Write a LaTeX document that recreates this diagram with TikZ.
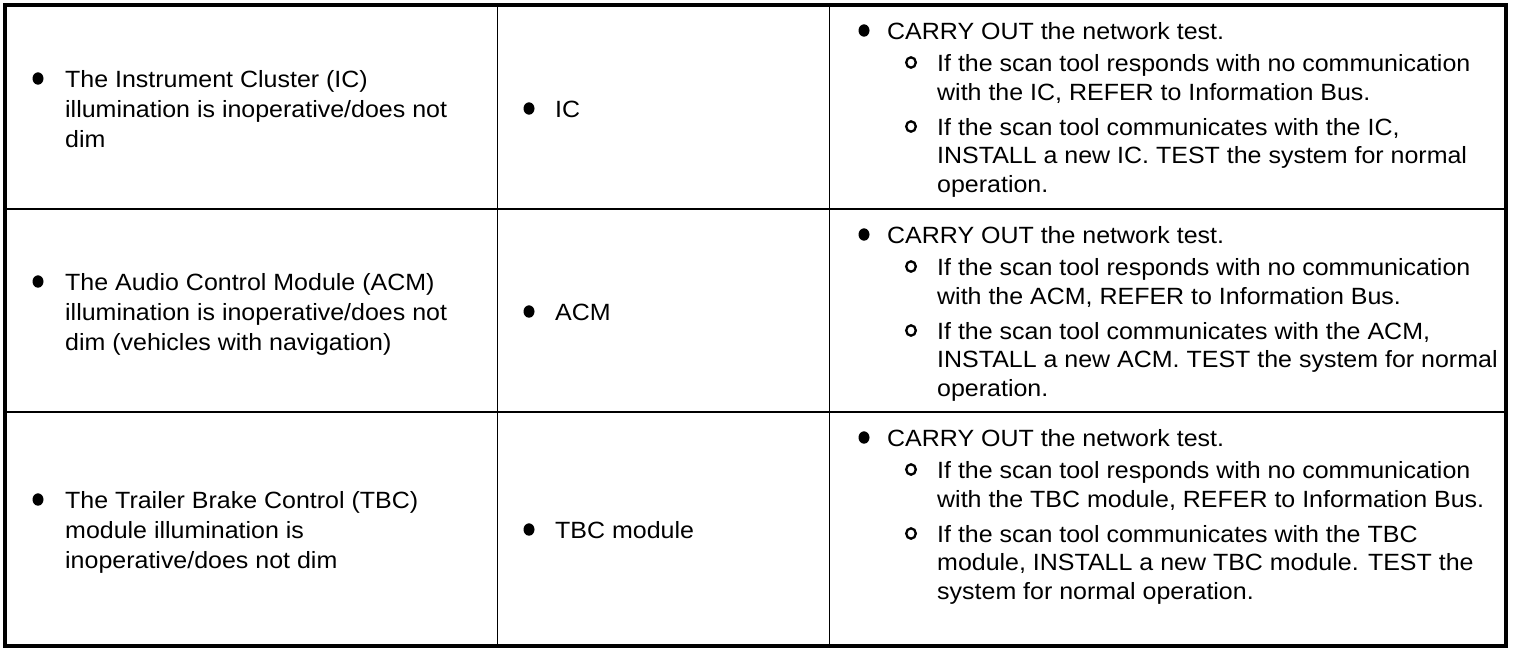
\documentclass[tikz,border=0pt]{standalone}
\usepackage{fontspec}
\setmainfont{Liberation Sans}[FakeStretch=1.063]
\newcommand\cellfont{\fontsize{23.5}{30}\selectfont}
\tikzset{
  txt/.style={anchor=base west,inner sep=0pt,font=\cellfont},
  dot/.style={fill=black},
  ring/.style={draw=black,line width=2.3pt}
}
\begin{document}
\begin{tikzpicture}[x=1pt,y=-1pt,line cap=rect,line join=miter]
	\useasboundingbox (0,0) rectangle (1520,654);
	% table rules
	\draw[line width=4pt] (5,5) rectangle (1506,646);
	\draw[line width=2pt] (5,209) -- (1506,209) (5,412) -- (1506,412);
	\draw[line width=1pt] (497,5) -- (497,646) (829,5) -- (829,646);
	% row 1
	\fill[dot] (38,78.5) ellipse (5.5pt and 6.2pt);
	\foreach \t [count=\i] in {The Instrument Cluster (IC),illumination is inoperative/does not,dim}
		\node[txt] (sym1-\i) at (65,{87+30*(\i-1)}) {\t};
	\fill[dot] (529,108.5) ellipse (5.5pt and 6.2pt);
	\node[txt] (mod1) at (555,117) {IC};
	\fill[dot] (864,30.5) ellipse (5.5pt and 6.2pt);
	\node[txt] (act1) at (887,39) {CARRY OUT the network test.};
	\draw[ring] (911,62.5) ellipse (4.8pt and 5.2pt);
	\foreach \t [count=\i] in {If the scan tool responds with no communication,{with the IC, REFER to Information Bus.}}
		\node[txt] (act1a-\i) at (937,{71+29*(\i-1)}) {\t};
	\draw[ring] (911,126.5) ellipse (4.8pt and 5.2pt);
	\foreach \t [count=\i] in {{If the scan tool communicates with the IC,},INSTALL a new IC.\ TEST the system for normal,operation.}
		\node[txt] (act1b-\i) at (937,{135+28.5*(\i-1)}) {\t};
	% row 2
	\fill[dot] (38,281.5) ellipse (5.5pt and 6.2pt);
	\foreach \t [count=\i] in {The Audio Control Module (ACM),illumination is inoperative/does not,dim (vehicles with navigation)}
		\node[txt] (sym2-\i) at (65,{290+30*(\i-1)}) {\t};
	\fill[dot] (529,311.5) ellipse (5.5pt and 6.2pt);
	\node[txt] (mod2) at (555,320) {ACM};
	\fill[dot] (864,234.5) ellipse (5.5pt and 6.2pt);
	\node[txt] (act2) at (887,243) {CARRY OUT the network test.};
	\draw[ring] (911,266.5) ellipse (4.8pt and 5.2pt);
	\foreach \t [count=\i] in {If the scan tool responds with no communication,{with the ACM, REFER to Information Bus.}}
		\node[txt] (act2a-\i) at (937,{275+29*(\i-1)}) {\t};
	\draw[ring] (911,330.5) ellipse (4.8pt and 5.2pt);
	\foreach \t [count=\i] in {{If the scan tool communicates with the ACM,},INSTALL a new ACM. TEST the system for normal,operation.}
		\node[txt] (act2b-\i) at (937,{339+28.5*(\i-1)}) {\t};
	% row 3
	\fill[dot] (38,499.5) ellipse (5.5pt and 6.2pt);
	\foreach \t [count=\i] in {The Trailer Brake Control (TBC),module illumination is,inoperative/does not dim}
		\node[txt] (sym3-\i) at (65,{508+30*(\i-1)}) {\t};
	\fill[dot] (529,529.5) ellipse (5.5pt and 6.2pt);
	\node[txt] (mod3) at (555,538) {TBC module};
	\fill[dot] (864,437.5) ellipse (5.5pt and 6.2pt);
	\node[txt] (act3) at (887,446) {CARRY OUT the network test.};
	\draw[ring] (911,469.5) ellipse (4.8pt and 5.2pt);
	\foreach \t [count=\i] in {If the scan tool responds with no communication,{with the TBC module, REFER to Information Bus.}}
		\node[txt] (act3a-\i) at (937,{478+29*(\i-1)}) {\t};
	\draw[ring] (911,533.5) ellipse (4.8pt and 5.2pt);
	\foreach \t [count=\i] in {If the scan tool communicates with the TBC,{module, INSTALL a new TBC module. TEST the},system for normal operation.}
		\node[txt] (act3b-\i) at (937,{542+28.5*(\i-1)}) {\t};
\end{tikzpicture}
\end{document}
